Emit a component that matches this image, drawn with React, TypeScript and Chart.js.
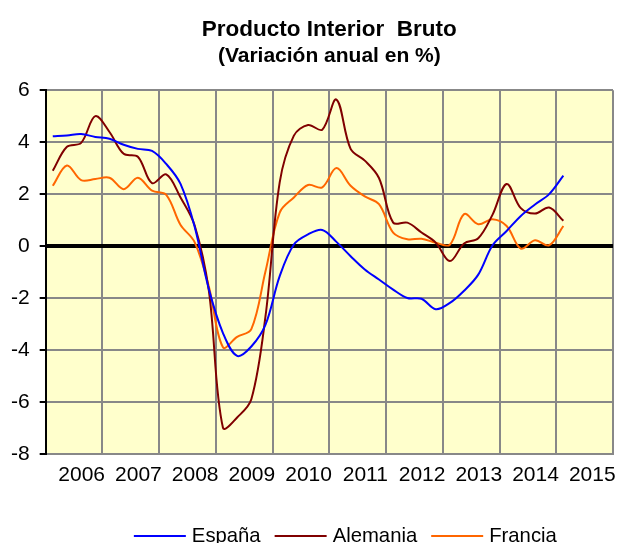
import { useEffect, useRef } from 'react';
import { Chart, registerables } from 'chart.js';

Chart.register(...registerables);

// Year labels on the category axis (each year = 4 quarters)
const years = ['2006', '2007', '2008', '2009', '2010', '2011', '2012', '2013', '2014', '2015'];

// Quarterly series, 2006 Q1 .. 2015 Q1 (37 quarters), year-on-year % change
const espana = [
  4.23, 4.26, 4.31, 4.2, 4.13, 3.9, 3.74, 3.66, 3.16, 2.4, 0.75, -1.65, -3.35,
  -4.23, -3.87, -3.03, -1.16, 0.06, 0.45, 0.62, 0.16, -0.39, -0.9, -1.29, -1.68,
  -2.0, -2.03, -2.43, -2.19, -1.72, -1.1, 0.02, 0.58, 1.16, 1.6, 2.0, 2.71,
];
const alemania = [
  2.9, 3.82, 3.97, 5.0, 4.39, 3.55, 3.44, 2.42, 2.76, 1.88, 0.8, -1.7, -7.0,
  -6.6, -5.9, -2.7, 2.45, 4.25, 4.66, 4.48, 5.64, 3.74, 3.29, 2.62, 0.9,
  0.9, 0.52, 0.13, -0.58, 0.1, 0.3, 1.2, 2.39, 1.46, 1.25, 1.48, 0.97,
];
const francia = [
  2.32, 3.1, 2.54, 2.58, 2.63, 2.19, 2.63, 2.13, 1.97, 0.82, 0.15, -1.55, -3.9,
  -3.5, -3.2, -0.97, 1.29, 1.87, 2.35, 2.26, 3.0, 2.32, 1.91, 1.61, 0.52,
  0.26, 0.28, 0.13, 0.05, 1.23, 0.84, 1.03, 0.77, -0.1, 0.22, 0.03, 0.77,
];

const seriesNames = ['España', 'Alemania', 'Francia'];
const seriesColors = ['#0000FF', '#800000', '#FF6600'];
const titleText = 'Producto Interior  Bruto';
const subtitleText = '(Variación anual en %)';

const FONT = '"Liberation Sans", Arial, sans-serif';

const toPoints = (arr: number[]) => arr.map((v, i) => ({ x: i + 0.5, y: v }));

const plotBg = {
  id: 'plotBg',
  beforeDraw(chart: any) {
    const { ctx, chartArea } = chart;
    ctx.save();
    ctx.fillStyle = '#FFFFCC';
    ctx.fillRect(chartArea.left, chartArea.top, chartArea.right - chartArea.left, chartArea.bottom - chartArea.top);
    ctx.restore();
  },
};

const lineLegend = {
  id: 'lineLegend',
  afterDraw(chart: any) {
    const { ctx, chartArea } = chart;
    const items = chart.data.datasets;
    ctx.save();
    ctx.font = `20.3px ${FONT}`;
    ctx.textBaseline = 'alphabetic';
    const lineW = 52;
    const gapText = 6;
    const gapItem = 14;
    const widths = items.map((d: any) => lineW + gapText + ctx.measureText(d.label).width);
    const total = widths.reduce((a: number, b: number) => a + b, 0) + gapItem * (items.length - 1);
    const cx = (chartArea.left + chartArea.right) / 2 + 16;
    let x = cx - total / 2;
    const baseY = chart.height - 1;
    items.forEach((d: any, i: number) => {
      ctx.strokeStyle = d.borderColor;
      ctx.lineWidth = 2;
      ctx.beginPath();
      ctx.moveTo(x, baseY - 6);
      ctx.lineTo(x + lineW, baseY - 6);
      ctx.stroke();
      ctx.fillStyle = '#000';
      ctx.fillText(d.label, x + lineW + gapText, baseY);
      x += widths[i] + gapItem;
    });
    ctx.restore();
  },
};

export default function App() {
  const ref = useRef<HTMLCanvasElement | null>(null);

  useEffect(() => {
    if (!ref.current) return;
    const series = [espana, alemania, francia];
    const chart = new Chart(ref.current, {
      type: 'line',
      data: {
        datasets: series.map((s, i) => ({
          label: seriesNames[i],
          data: toPoints(s),
          borderColor: seriesColors[i],
          backgroundColor: seriesColors[i],
          borderWidth: 2,
          pointRadius: 0,
          tension: 0.35,
          fill: false,
        })),
      },
      options: {
        animation: false,
        responsive: false,
        events: [],
        layout: { padding: { left: 1, right: 5, top: 0, bottom: 46 } },
        plugins: {
          legend: { display: false },
          tooltip: { enabled: false },
          title: {
            display: true,
            fullSize: false,
            text: titleText,
            color: '#000',
            font: { family: FONT, size: 22.5, weight: 'bold', lineHeight: 1.2 },
            padding: { top: 16.5, bottom: 0 },
          },
          subtitle: {
            display: true,
            fullSize: false,
            text: subtitleText,
            color: '#000',
            font: { family: FONT, size: 21, weight: 'bold', lineHeight: 1.2 },
            padding: { top: 0, bottom: 21.5 },
          },
        },
        scales: {
          x: {
            type: 'linear',
            min: 0,
            max: years.length * 4,
            grid: {
              color: (c: any) => (c.tick && c.tick.value === 0 ? 'rgba(0,0,0,0)' : '#888888'),
              lineWidth: 2,
              drawTicks: false,
            },
            border: { color: '#888888', width: 2 },
            ticks: {
              stepSize: 4,
              autoSkip: false,
              maxRotation: 0,
              padding: 9,
              labelOffset: 36,
              color: '#000',
              font: { family: FONT, size: 21 },
              callback: (v: any) => {
                const idx = Math.round(Number(v) / 4);
                return idx < years.length ? years[idx] : '';
              },
            },
          },
          y: {
            min: -8,
            max: 6,
            grid: {
              color: (c: any) => (c.tick && c.tick.value === 0 ? '#000000' : '#888888'),
              lineWidth: (c: any) => (c.tick && c.tick.value === 0 ? 4 : 2),
              tickColor: '#000000',
              tickWidth: 2,
              tickLength: 6,
            },
            border: { color: '#000000', width: 2 },
            ticks: {
              stepSize: 2,
              padding: 10,
              color: '#000',
              font: { family: FONT, size: 21 },
            },
          },
        },
      },
      plugins: [plotBg, lineLegend],
    });
    return () => chart.destroy();
  }, []);

  return (
    <div style={{ position: 'absolute', left: 0, top: 0, width: 622, height: 543 }}>
      <canvas ref={ref} width={622} height={543} style={{ width: 622, height: 543, display: 'block' }} />
    </div>
  );
}
